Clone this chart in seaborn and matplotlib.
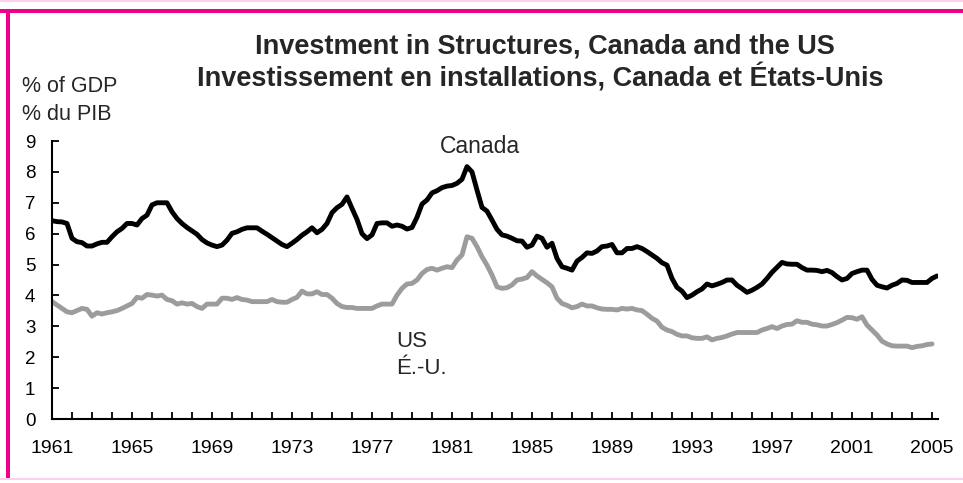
import numpy as np
import pandas as pd
import matplotlib
matplotlib.use("Agg")
import matplotlib.pyplot as plt
from matplotlib.patches import Rectangle
import seaborn as sns

# quarterly data, % of GDP, starting 1961Q1
start_year = 1961
canada = [
    6.42, 6.39, 6.38, 6.33, 5.85, 5.74, 5.71, 5.60, 5.60, 5.67, 5.72, 5.72,
    5.90, 6.06, 6.17, 6.33, 6.33, 6.28, 6.49, 6.60, 6.93, 7.00, 7.00, 7.00,
    6.71, 6.49, 6.33, 6.20, 6.09, 5.98, 5.81, 5.70,
    5.63, 5.58, 5.63, 5.79, 6.01, 6.06, 6.14, 6.19, 6.19, 6.19, 6.08, 5.98,
    5.87, 5.76, 5.65, 5.58, 5.69, 5.81, 5.95, 6.06, 6.19, 6.03, 6.14, 6.33,
    6.68, 6.84, 6.95, 7.19, 6.82, 6.46, 6.00, 5.84, 5.96, 6.33, 6.35, 6.35,
    6.24, 6.28, 6.24, 6.15, 6.20, 6.53, 6.96, 7.09, 7.32, 7.39, 7.49, 7.54,
    7.56, 7.63, 7.76, 8.17, 8.00, 7.41, 6.85, 6.73, 6.44, 6.14, 5.96, 5.92,
    5.85, 5.77, 5.76, 5.56, 5.63, 5.92, 5.85, 5.56, 5.69, 5.20, 4.93, 4.88,
    4.82, 5.11, 5.23, 5.38, 5.36, 5.44, 5.58, 5.60, 5.65, 5.38, 5.38, 5.52,
    5.52, 5.58, 5.52, 5.42, 5.31, 5.20, 5.06, 4.98,
    4.55, 4.26, 4.14, 3.93, 4.01, 4.12, 4.21, 4.37, 4.31, 4.36, 4.42, 4.50,
    4.50, 4.33, 4.22, 4.10, 4.17, 4.26, 4.37, 4.55, 4.75, 4.91, 5.07, 5.02,
    5.01, 5.01, 4.90, 4.82, 4.82,
    4.81, 4.77, 4.81, 4.74, 4.61, 4.50, 4.55, 4.71, 4.77, 4.82, 4.82, 4.52,
    4.33, 4.28, 4.24, 4.33, 4.39, 4.50, 4.49, 4.42, 4.42, 4.42, 4.42, 4.55,
    4.63,
]
us = [
    3.80, 3.69, 3.58, 3.47, 3.44, 3.51, 3.58, 3.55, 3.33, 3.44, 3.40, 3.44,
    3.47, 3.51, 3.58, 3.66, 3.74, 3.94, 3.91, 4.03, 4.01, 3.98, 4.01, 3.87,
    3.83, 3.72, 3.76, 3.72, 3.74, 3.64, 3.58, 3.72,
    3.72, 3.72, 3.91, 3.91, 3.87, 3.93, 3.87, 3.85, 3.80, 3.80, 3.80, 3.80,
    3.87, 3.80, 3.78, 3.78, 3.87, 3.94, 4.14, 4.05, 4.05, 4.12, 4.03, 4.03,
    3.91, 3.74, 3.64, 3.61, 3.61,
    3.58, 3.58, 3.58, 3.58, 3.66, 3.72, 3.72, 3.72, 4.01, 4.23, 4.37, 4.39,
    4.50, 4.71, 4.84, 4.88, 4.82, 4.88, 4.93, 4.90, 5.15, 5.31, 5.90, 5.85,
    5.58, 5.25, 4.98, 4.66, 4.28, 4.23, 4.25,
    4.34, 4.50, 4.53, 4.58, 4.77, 4.63, 4.52, 4.41, 4.28, 3.91, 3.74, 3.68,
    3.60, 3.64, 3.72, 3.66, 3.66, 3.60, 3.56, 3.55, 3.55, 3.53, 3.58, 3.56,
    3.58, 3.53, 3.51, 3.39, 3.26, 3.17, 2.97, 2.88,
    2.83, 2.74, 2.69, 2.69, 2.63, 2.61, 2.61, 2.66, 2.56, 2.61, 2.64, 2.69,
    2.75, 2.80, 2.80, 2.80, 2.80, 2.80, 2.88, 2.93, 2.99, 2.93, 3.01, 3.06,
    3.07, 3.18, 3.13, 3.13, 3.07,
    3.05, 3.01, 3.01, 3.06, 3.12, 3.20, 3.29, 3.28, 3.23, 3.31, 3.04, 2.88,
    2.72, 2.52, 2.43, 2.37, 2.36, 2.36, 2.36, 2.31, 2.35, 2.37, 2.41, 2.43,
]
year_ticks = list(range(1961, 2006))
year_labels = [str(y) if (y - 1961) % 4 == 0 else "" for y in year_ticks]
y_ticks = list(range(0, 10))

df = pd.concat([
    pd.DataFrame({"year": start_year + np.arange(len(canada)) / 4,
                  "value": canada, "series": "Canada"}),
    pd.DataFrame({"year": start_year + np.arange(len(us)) / 4,
                  "value": us, "series": "US"}),
], ignore_index=True)

sns.set_style("ticks")
plt.rcParams["font.family"] = ["Liberation Sans", "DejaVu Sans"]

W, H = 963, 483
fig = plt.figure(figsize=(W / 100, H / 100), dpi=100)
ax = fig.add_axes([52 / W, 64 / H, 886 / W, 278 / H])

sns.lineplot(data=df, x="year", y="value", hue="series", estimator=None,
             palette={"Canada": "black", "US": "#9c9c9c"},
             linewidth=3.5, legend=False, ax=ax)

ax.set_xlim(1961, 2005.3)
ax.set_ylim(0, 9)
ax.set_xticks(year_ticks)
ax.set_xticklabels(year_labels, fontsize=14)
ax.set_yticks(y_ticks)
ax.set_yticklabels([str(v) for v in y_ticks], fontsize=13.5)
ax.tick_params(axis="x", direction="in", length=5, width=1.3, pad=15, colors="black")
ax.tick_params(axis="y", direction="in", length=5, width=1.3, pad=12, colors="black")
ax.set_xlabel("")
ax.set_ylabel("")
for side in ["top", "right"]:
    ax.spines[side].set_visible(False)
for side in ["left", "bottom"]:
    ax.spines[side].set_linewidth(1.5)
    ax.spines[side].set_color("black")

ax.text(1982.4, 8.81, "Canada", ha="center", va="center", fontsize=16.5)
ax.text(1978.2, 2.5, "US", ha="left", va="center", fontsize=16)
ax.text(1978.2, 1.65, "É.-U.", ha="left", va="center", fontsize=16)

fig.text(545 / W, 1 - 47 / H, "Investment in Structures, Canada and the US",
         ha="center", va="center", fontsize=19.5, fontweight="bold")
fig.text(540 / W, 1 - 78 / H, "Investissement en installations, Canada et États-Unis",
         ha="center", va="center", fontsize=19.5, fontweight="bold")
fig.text(22 / W, 1 - 86 / H, "% of GDP", ha="left", va="center", fontsize=15.5)
fig.text(22 / W, 1 - 115 / H, "% du PIB", ha="left", va="center", fontsize=15.5)

# frame lines
fig.add_artist(Rectangle((0, 1 - 2 / H), 1, 2 / H, transform=fig.transFigure,
                         color="#ffd0ea", lw=0))
fig.add_artist(Rectangle((0, 1 - 13 / H), 1, 4 / H, transform=fig.transFigure,
                         color="#ec008c", lw=0))
fig.add_artist(Rectangle((6 / W, 5 / H), 4 / W, (H - 14) / H, transform=fig.transFigure,
                         color="#ec008c", lw=0))
fig.add_artist(Rectangle((0, 3 / H), 1, 2 / H, transform=fig.transFigure,
                         color="#ffd0ea", lw=0))

fig.savefig("out.png", dpi=100)
